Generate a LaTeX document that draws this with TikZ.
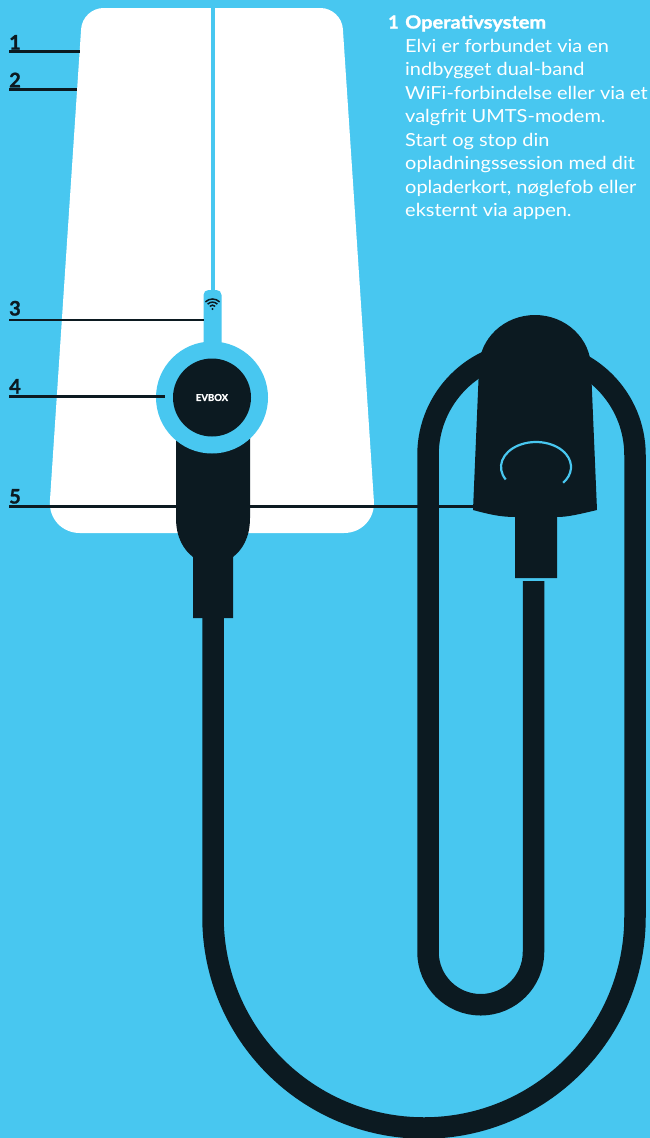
\documentclass[tikz,border=0pt]{standalone}
\usepackage{fontspec}
\setmainfont{Lato}
\usetikzlibrary{positioning}

\definecolor{skyblue}{HTML}{48C7F0}
\definecolor{cabledark}{HTML}{0C1A21}

\begin{document}
\begin{tikzpicture}[x=1pt,y=-1pt,
  leader/.style={draw=cabledark,line width=2.5pt},
  num/.style={font=\fontsize{20}{24}\selectfont\bfseries\addfontfeature{FakeBold=1.2},text=cabledark,inner sep=0pt,anchor=base west},
  copytext/.style={font=\fontsize{18}{23.5}\selectfont\addfontfeature{FakeStretch=1.11},text=white,inner sep=0pt}]
\fill[skyblue] (0,0) rectangle (650,1138);
\useasboundingbox (0,0) rectangle (650,1138);

% housing with tapered sides
\fill[white] (212,8) [rounded corners=21pt] -- (341.5,8) -- (359.4,280)
  [rounded corners=32pt] -- (376,533) -- (47.8,533) -- (64.5,280)
  [rounded corners=21pt] -- (82.5,8) -- cycle;
\draw[skyblue,line width=4pt] (212.5,0) -- (212.5,295);
\fill[skyblue,rounded corners=5pt] (203.5,290) rectangle (221.5,352);

% leader 5 runs behind handle and plug
\coordinate (s5) at (9,506.7);
\coordinate (t5) at (474,506.7);
\draw[leader] (s5) -- (t5);

% cable
\draw[cabledark,line width=21.5pt] (213,618) -- (213,917)
  arc[start angle=180,end angle=0,radius=211] -- (635,455)
  arc[start angle=0,end angle=-180,radius=103.5] -- (428,952)
  arc[start angle=180,end angle=0,radius=52.75] -- (533.5,581);

% handle
\fill[cabledark] (176,430) -- (176,518) .. controls (176,538) and (184,550) .. (193,557)
  -- (193,618) -- (233,618) -- (233,557) .. controls (242,550) and (250,538) .. (250,518)
  -- (250,430) -- cycle;

% ring and button
\fill[skyblue] (212,397.5) circle[radius=56];
\fill[cabledark] (212,397.5) circle[radius=39];
\node[font=\fontsize{9.5}{10}\selectfont\bfseries\addfontfeature{FakeBold=1.5},text=white,inner sep=0pt] (logo) at (212,397.5) {EVBOX};

% wifi
\foreach \r in {3.8,6.9,10}
  \draw[cabledark,line width=1.5pt] ([shift={(-135:\r)}]212.5,309) arc[start angle=-135,end angle=-45,radius=\r];
\fill[cabledark] (212.5,309) circle[radius=1.2];

% plug
\fill[cabledark] (479,368) arc[start angle=180,end angle=360,x radius=56,y radius=53]
  -- (597,510) .. controls (580,514) and (568,517) .. (557,517) -- (557,578) -- (515,578)
  -- (515,517) .. controls (500,517) and (488,514) .. (473,510) -- cycle;
\draw[skyblue,line width=2.2pt] ([shift={(150:35 and 25)}]536,467)
  arc[start angle=150,end angle=399,x radius=35,y radius=25];

% numbered leaders
\node[num] (n1) at (9,49.5) {1};
\node[num] (n2) at (9,87.3) {2};
\node[num] (n3) at (9,315.5) {3};
\node[num] (n4) at (9,393.5) {4};
\node[num] (n5) at (9,503.5) {5};
\coordinate (s1) at (9,51.7);   \coordinate (t1) at (80,51.7);
\coordinate (s2) at (9,89.3);   \coordinate (t2) at (77.3,89.3);
\coordinate (s3) at (9,320);    \coordinate (t3) at (204,320);
\coordinate (s4) at (9,396.7);  \coordinate (t4) at (165,396.7);
\draw[leader] (s1) -- (t1);
\draw[leader] (s2) -- (t2);
\draw[leader] (s3) -- (t3);
\draw[leader] (s4) -- (t4);

% description (base = last line)
\node[copytext,font=\fontsize{18}{23.5}\selectfont\bfseries\addfontfeature{FakeBold=1.5},anchor=base west] (hnum) at (388,28.5) {1};
\node[copytext,anchor=base west,align=left] (desc) at (405,216.5)
  {{\bfseries\addfontfeature{FakeBold=1.5}Operativsystem}\\
   Elvi er forbundet via en\\
   indbygget dual-band\\
   WiFi-forbindelse eller via et\\
   valgfrit UMTS-modem.\\
   Start og stop din\\
   opladningssession med dit\\
   opladerkort, nøglefob eller\\
   eksternt via appen.};
\end{tikzpicture}
\end{document}
